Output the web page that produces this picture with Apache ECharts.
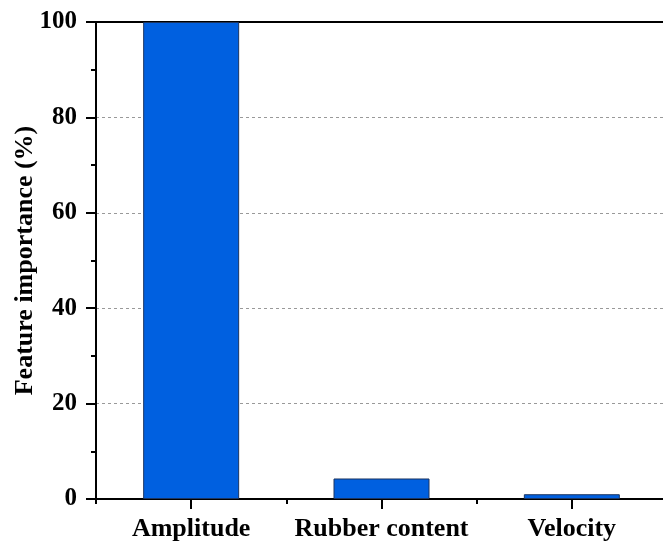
<!DOCTYPE html>
<html>
<head>
<meta charset="utf-8">
<script src="https://cdn.jsdelivr.net/npm/echarts@6/dist/echarts.min.js"></script>
<style>html,body{margin:0;padding:0;background:#fff;}#c{width:663px;height:541px;}</style>
</head>
<body>
<div id="c"></div>
<script>
const categories = ['Amplitude', 'Rubber content', 'Velocity'];
const importance = [100, 4.3, 1.0];
const yTicks = [0, 20, 40, 60, 80, 100];

const font = "'Liberation Serif', 'Times New Roman', serif";
const chart = echarts.init(document.getElementById('c'));
chart.setOption({
  animation: false,
  grid: { left: 96, right: -4, top: 22, bottom: 42, containLabel: false, outerBoundsMode: 'none' },
  xAxis: [
    {
      type: 'category', data: categories, position: 'bottom',
      axisLine: { show: true, lineStyle: { color: '#000', width: 2 } },
      axisTick: { show: true, alignWithLabel: true, length: 10, lineStyle: { color: '#000', width: 2 } },
      axisLabel: { color: '#000', fontFamily: font, fontWeight: 'bold', fontSize: 26, margin: 17, interval: 0, hideOverlap: false },
      splitLine: { show: false }
    },
    {
      type: 'category', data: categories, position: 'bottom',
      axisLine: { show: false },
      axisTick: { show: true, alignWithLabel: false, length: 5, lineStyle: { color: '#000', width: 2 } },
      axisLabel: { show: false },
      splitLine: { show: false }
    },
    {
      type: 'category', data: categories, position: 'top',
      axisLine: { show: true, lineStyle: { color: '#000', width: 2 } },
      axisTick: { show: false },
      axisLabel: { show: false },
      splitLine: { show: false }
    }
  ],
  yAxis: {
    type: 'value', min: yTicks[0], max: yTicks[yTicks.length - 1], interval: 20,
    axisLine: { show: true, lineStyle: { color: '#000', width: 2 } },
    axisTick: { show: true, length: 10, lineStyle: { color: '#000', width: 2 } },
    minorTick: { show: true, splitNumber: 2, length: 5, lineStyle: { color: '#000', width: 2 } },
    axisLabel: { color: '#000', fontFamily: font, fontWeight: 'bold', fontSize: 25, margin: 19 },
    splitLine: { show: true, lineStyle: { color: '#999', type: [3, 3], width: 1 } },
    name: 'Feature importance (%)', nameLocation: 'middle', nameGap: 58, nameMoveOverlap: false,
    nameTextStyle: { color: '#000', fontFamily: font, fontWeight: 'bold', fontSize: 26 }
  },
  series: [{
    type: 'bar', data: importance, xAxisIndex: 0, barWidth: 96,
    itemStyle: { color: '#0060E0', borderColor: '#1c3560', borderWidth: 1 }
  }]
});
</script>
</body>
</html>
